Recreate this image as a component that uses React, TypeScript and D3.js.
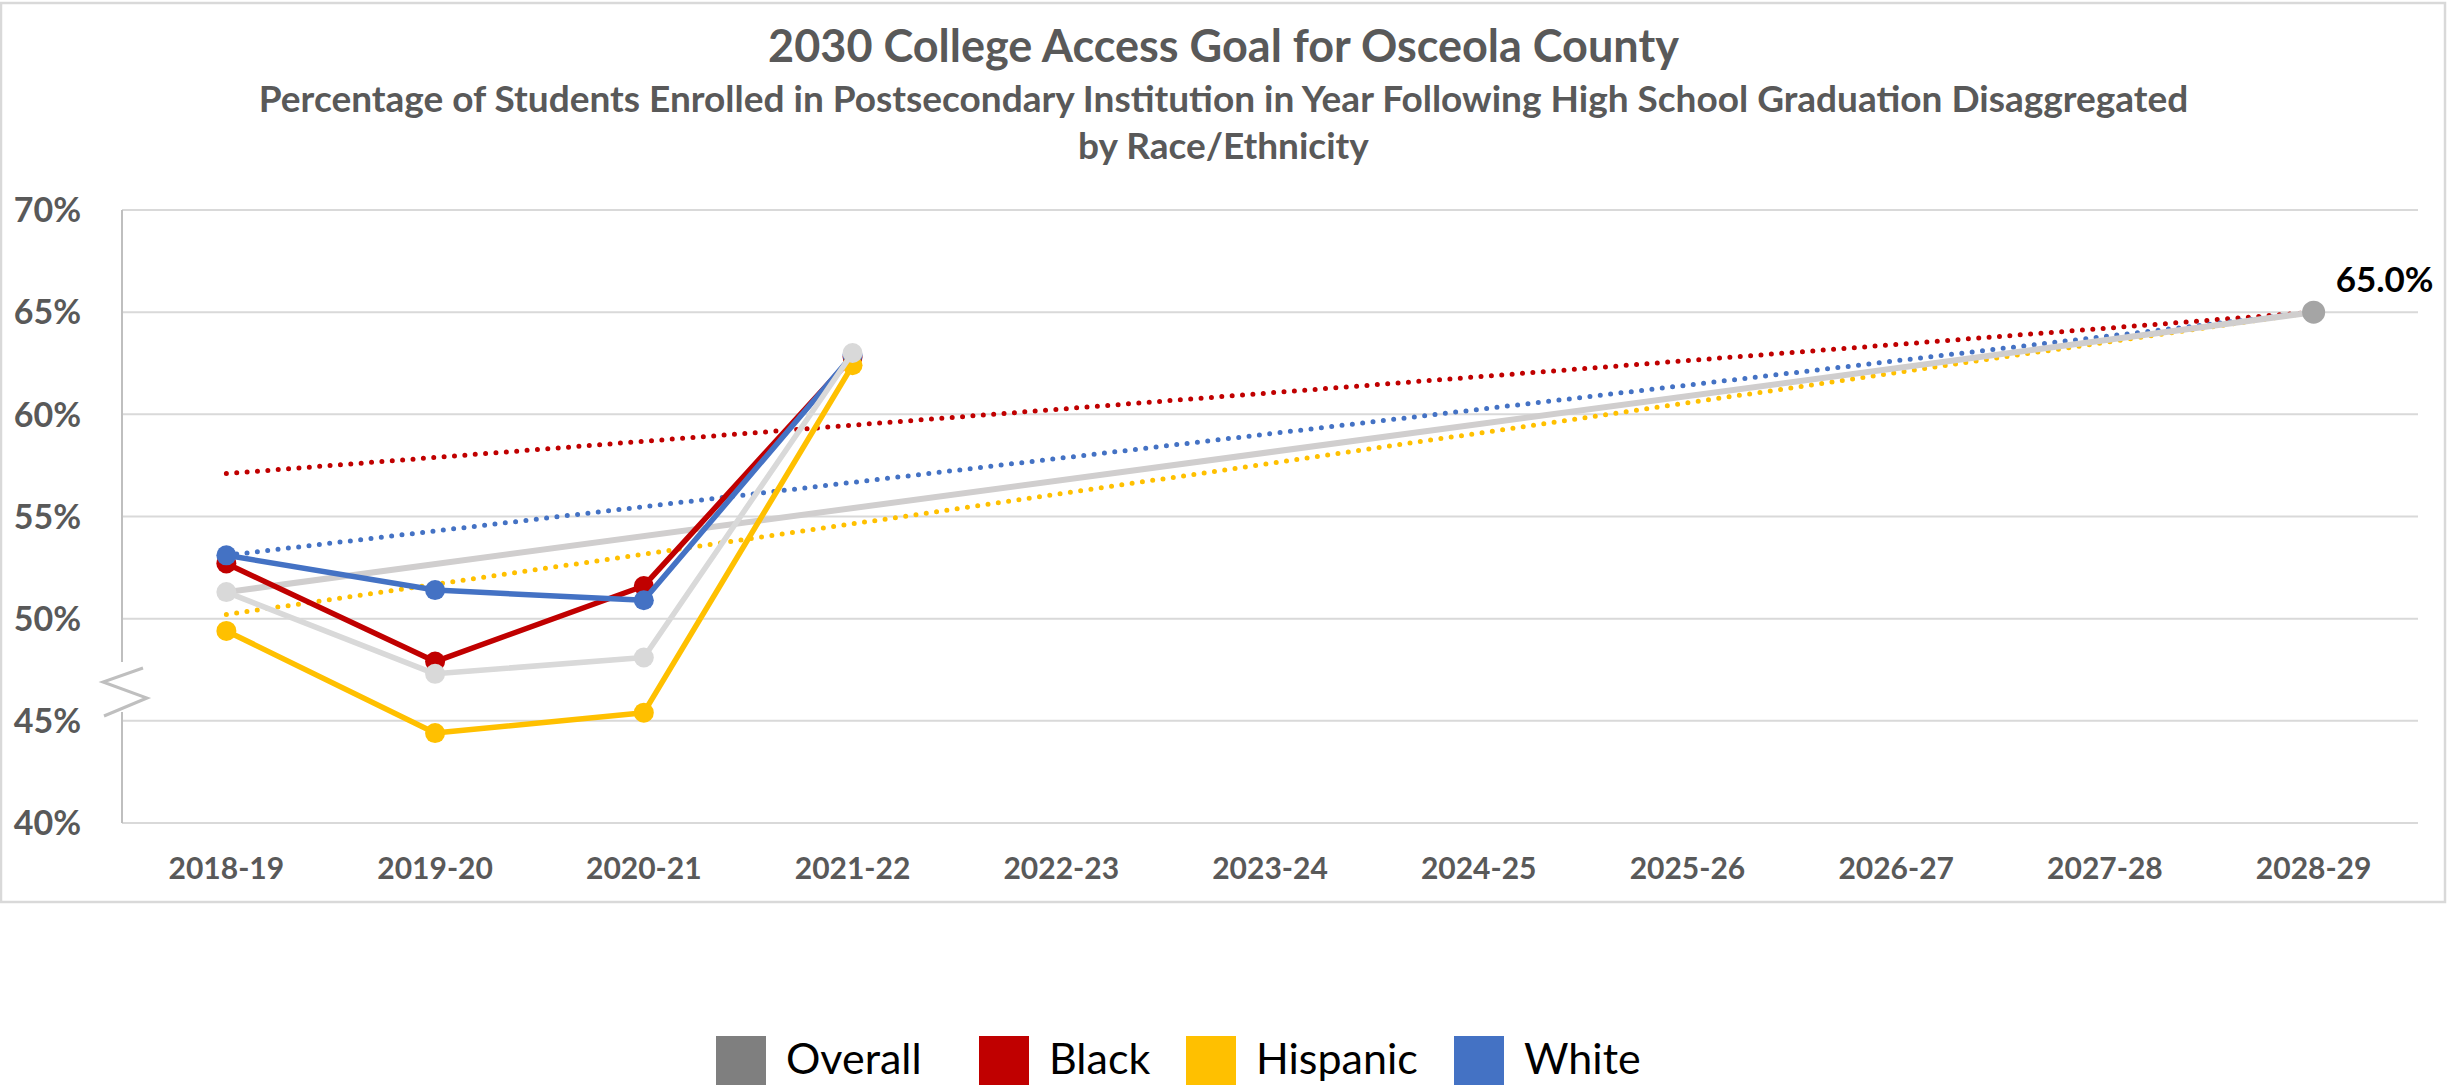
import * as d3 from 'd3'

const categories = ['2018-19', '2019-20', '2020-21', '2021-22', '2022-23', '2023-24', '2024-25', '2025-26', '2026-27', '2027-28', '2028-29']
const yTicks = [40, 45, 50, 55, 60, 65, 70]

// actual values (first four years)
const overall = [51.3, 47.3, 48.1, 63.0]
const black = [52.7, 47.9, 51.6, 62.8]
const hispanic = [49.4, 44.4, 45.4, 62.4]
const white = [53.1, 51.4, 50.9, 62.9]

// goal lines run from a starting value in 2018-19 to the 2028-29 goal
const goal = 65.0
const goalStart = { overall: 51.3, black: 57.1, hispanic: 50.2, white: 53.1 }

const legendItems = [
  { name: 'Overall', color: '#7F7F7F' },
  { name: 'Black', color: '#C00000' },
  { name: 'Hispanic', color: '#FFC000' },
  { name: 'White', color: '#4472C4' },
]

const W = 2447
const H = 1085
const font = 'Lato, "Open Sans", sans-serif'

export default function App() {
  const x = d3.scalePoint<string>().domain(categories).range([122, 2418]).padding(0.5)
  const y = d3.scaleLinear().domain([40, 70]).range([823, 210])

  const line = d3.line<[string, number]>()
    .x(d => x(d[0])!)
    .y(d => y(d[1]))

  const first = categories[0]
  const last = categories[categories.length - 1]

  const series = [
    { key: 'black', vals: black, color: '#C00000' },
    { key: 'white', vals: white, color: '#4472C4' },
    { key: 'hispanic', vals: hispanic, color: '#FFC000' },
    { key: 'overall', vals: overall, color: '#D9D9D9' },
  ]

  const trends = [
    { start: goalStart.black, color: '#C00000' },
    { start: goalStart.white, color: '#4472C4' },
    { start: goalStart.hispanic, color: '#FFC000' },
  ]

  return (
    <svg width={W} height={H} style={{ position: 'absolute', left: 0, top: 0, background: '#fff' }} fontFamily={font}>
      <rect x={1} y={3} width={2444} height={899} fill="#fff" stroke="#D9D9D9" strokeWidth={2.5} />

      <text x={W / 2} y={62} textAnchor="middle" fontSize={45} fontWeight="bold" fill="#595959">2030 College Access Goal for Osceola County</text>
      <text x={W / 2} y={112} textAnchor="middle" fontSize={37} fontWeight="bold" fill="#595959">Percentage of Students Enrolled in Postsecondary Institution in Year Following High School Graduation Disaggregated</text>
      <text x={W / 2} y={159} textAnchor="middle" fontSize={37} fontWeight="bold" fill="#595959">by Race/Ethnicity</text>

      {yTicks.map(t => (
        <g key={t}>
          <line x1={122} x2={2418} y1={y(t)} y2={y(t)} stroke="#D9D9D9" strokeWidth={2} />
          <text x={81} y={y(t)} dy="0.36em" textAnchor="end" fontSize={34} fontWeight="bold" fill="#595959">{t}%</text>
        </g>
      ))}

      {/* y axis with break */}
      <line x1={122} x2={122} y1={y(70)} y2={662} stroke="#BFBFBF" strokeWidth={2} />
      <line x1={122} x2={122} y1={712} y2={y(40)} stroke="#BFBFBF" strokeWidth={2} />
      <polyline points="143,668 103,682 147,698 104,716" fill="none" stroke="#BFBFBF" strokeWidth={3} />

      {categories.map(c => (
        <text key={c} x={x(c)} y={868} dy="0.36em" textAnchor="middle" fontSize={30} fontWeight="bold" fill="#595959">{c}</text>
      ))}

      {/* goal trend lines */}
      {trends.map((t, i) => (
        <path key={i} d={line([[first, t.start], [last, goal]])!} fill="none" stroke={t.color} strokeWidth={5} strokeDasharray="0 10.4" strokeLinecap="round" />
      ))}
      <path d={line([[first, goalStart.overall], [last, goal]])!} fill="none" stroke="#D0CECE" strokeWidth={6} />

      {series.map(s => {
        const pts: [string, number][] = s.vals.map((v, i) => [categories[i], v])
        return (
          <g key={s.key}>
            <path d={line(pts)!} fill="none" stroke={s.color} strokeWidth={5.5} strokeLinejoin="round" />
            {pts.map((p, i) => (
              <circle key={i} cx={x(p[0])} cy={y(p[1])} r={10} fill={s.color} />
            ))}
          </g>
        )
      })}

      <circle cx={x(last)} cy={y(goal)} r={11.5} fill="#A5A5A5" />
      <text x={x(last)! + 22} y={292} fontSize={35} fontWeight="bold" fill="#000">{goal.toFixed(1)}%</text>

      {legendItems.map((d, i) => {
        const xs = [716, 979, 1186, 1454]
        return (
          <g key={d.name}>
            <rect x={xs[i]} y={1036} width={50} height={50} fill={d.color} />
            <text x={xs[i] + 70} y={1074} fontSize={43} fill="#000">{d.name}</text>
          </g>
        )
      })}
    </svg>
  )
}
